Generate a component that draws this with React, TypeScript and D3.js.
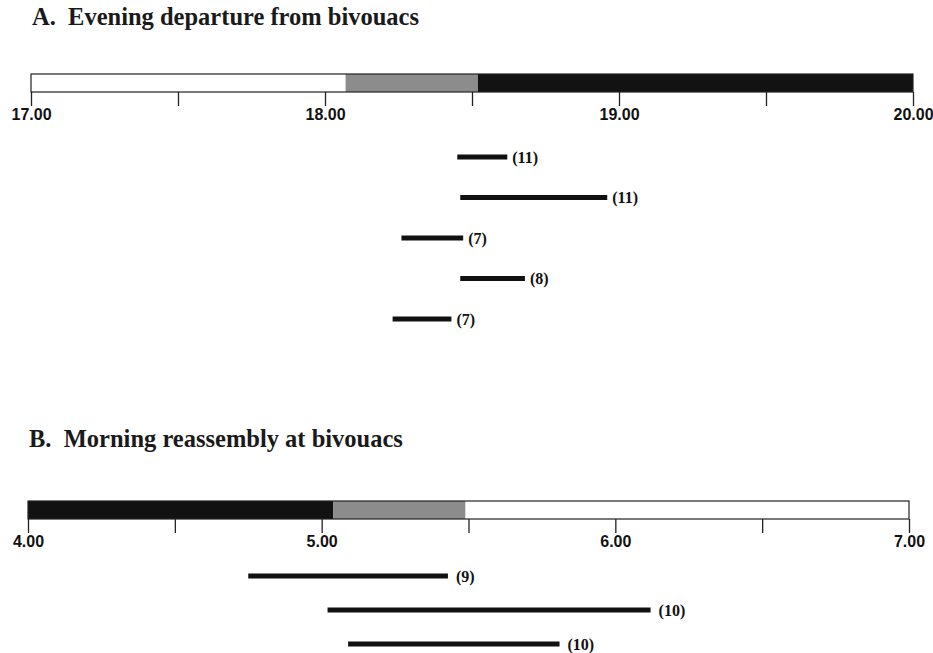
import { useEffect, useRef } from "react";
import * as d3 from "d3";

// light phases of each panel (hours)
const eveningPhases = ["day", "twilight", "night"];
const eveningBounds = [17, 18.07, 18.52, 20];
const morningPhases = ["night", "twilight", "day"];
const morningBounds = [4, 5.04, 5.49, 7];

// departure / reassembly intervals, one per bivouac, with n in brackets
const eveningStart = [18.45, 18.46, 18.26, 18.46, 18.23];
const eveningEnd = [18.62, 18.96, 18.47, 18.68, 18.43];
const eveningN = [11, 11, 7, 8, 7];

const morningStart = [4.75, 5.02, 5.09];
const morningEnd = [5.43, 6.12, 5.81];
const morningN = [9, 10, 10];

const phaseFill: Record<string, string> = {
  day: "#ffffff",
  twilight: "#8c8c8c",
  night: "#121212",
};

export default function App() {
  const ref = useRef<SVGSVGElement>(null);

  useEffect(() => {
    const svg = d3.select(ref.current);
    svg.selectAll("*").remove();

    const panel = (opts: {
      title: string;
      titleY: number;
      x0: number;
      x1: number;
      barTop: number;
      phases: string[];
      bounds: number[];
      start: number[];
      end: number[];
      n: number[];
      rowY: [number, number];
      gap: number;
    }) => {
      const { bounds } = opts;
      const x = d3
        .scaleLinear()
        .domain([bounds[0], bounds[bounds.length - 1]])
        .range([opts.x0, opts.x1]);

      const g = svg.append("g");

      g.append("text")
        .attr("x", opts.x0 + 1)
        .attr("y", opts.titleY)
        .attr("font-family", "'Liberation Serif', 'Times New Roman', serif")
        .attr("font-weight", "bold")
        .attr("font-size", 24.5)
        .attr("fill", "#1a1a1a")
        .attr("xml:space", "preserve")
        .text(opts.title);

      const barH = 18;
      // phase blocks
      g.selectAll("rect.phase")
        .data(opts.phases)
        .enter()
        .append("rect")
        .attr("class", "phase")
        .attr("x", (d, i) => x(bounds[i]))
        .attr("y", opts.barTop)
        .attr("width", (d, i) => x(bounds[i + 1]) - x(bounds[i]))
        .attr("height", barH)
        .attr("fill", (d) => phaseFill[d]);

      g.append("rect")
        .attr("x", x(bounds[0]))
        .attr("y", opts.barTop)
        .attr("width", x(bounds[bounds.length - 1]) - x(bounds[0]))
        .attr("height", barH)
        .attr("fill", "none")
        .attr("stroke", "#222")
        .attr("stroke-width", 1.2);

      // axis
      const axis = d3
        .axisBottom(x)
        .tickValues(d3.range(bounds[0], bounds[bounds.length - 1] + 0.01, 0.5))
        .tickSize(14)
        .tickFormat((d) => (Number(d) % 1 === 0 ? d3.format(".2f")(Number(d)) : ""));

      const ax = g
        .append("g")
        .attr("transform", `translate(0,${opts.barTop + barH})`)
        .call(axis);
      ax.select(".domain").remove();
      ax.selectAll(".tick line").attr("stroke", "#222").attr("stroke-width", 1.3);
      ax.selectAll(".tick text")
        .attr("y", 17)
        .attr("dy", "0.71em")
        .attr("fill", "#111")
        .attr("font-family", "'Liberation Sans', Arial, sans-serif")
        .attr("font-weight", "bold")
        .attr("font-size", 16);

      const y = d3
        .scalePoint<number>()
        .domain(d3.range(opts.start.length))
        .range(opts.rowY);

      g.selectAll("line.iv")
        .data(opts.start)
        .enter()
        .append("line")
        .attr("class", "iv")
        .attr("x1", (d) => x(d))
        .attr("x2", (d, i) => x(opts.end[i]))
        .attr("y1", (d, i) => y(i)!)
        .attr("y2", (d, i) => y(i)!)
        .attr("stroke", "#111")
        .attr("stroke-width", 5);

      g.selectAll("text.n")
        .data(opts.n)
        .enter()
        .append("text")
        .attr("class", "n")
        .attr("x", (d, i) => x(opts.end[i]) + opts.gap)
        .attr("y", (d, i) => y(i)!)
        .attr("dy", "0.35em")
        .attr("font-family", "'Liberation Serif', 'Times New Roman', serif")
        .attr("font-weight", "bold")
        .attr("font-size", 16)
        .attr("fill", "#111")
        .text((d) => `(${d})`);
    };

    panel({
      title: "A.  Evening departure from bivouacs",
      titleY: 25,
      x0: 31,
      x1: 913,
      barTop: 74,
      phases: eveningPhases,
      bounds: eveningBounds,
      start: eveningStart,
      end: eveningEnd,
      n: eveningN,
      rowY: [157, 319],
      gap: 5,
    });

    panel({
      title: "B.  Morning reassembly at bivouacs",
      titleY: 447,
      x0: 28,
      x1: 909,
      barTop: 501,
      phases: morningPhases,
      bounds: morningBounds,
      start: morningStart,
      end: morningEnd,
      n: morningN,
      rowY: [576, 644],
      gap: 8,
    });
  }, []);

  return (
    <div style={{ position: "absolute", left: 0, top: 0 }}>
      <svg ref={ref} width={933} height={653} style={{ display: "block", background: "#fff" }} />
    </div>
  );
}
